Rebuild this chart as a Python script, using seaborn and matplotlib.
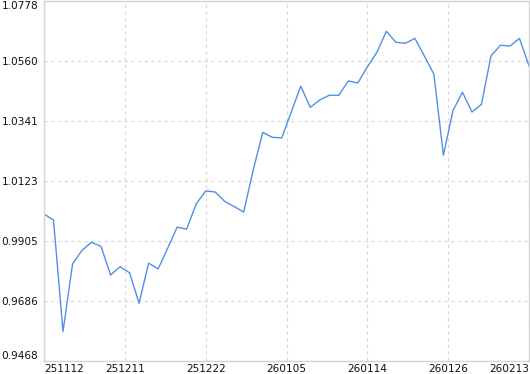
import numpy as np
import pandas as pd
import matplotlib
matplotlib.use("Agg")
import matplotlib.pyplot as plt
import seaborn as sns

values = [1.0003, 0.9981, 0.9575, 0.9821, 0.9871, 0.9900, 0.9885, 0.9781, 0.9811, 0.9789,
          0.9678, 0.9824, 0.9803, 0.9878, 0.9955, 0.9948, 1.0039, 1.0087, 1.0083, 1.0049,
          1.0030, 1.0010, 1.0163, 1.0300, 1.0282, 1.0280, 1.0374, 1.0468, 1.0391, 1.0418,
          1.0435, 1.0435, 1.0487, 1.0480, 1.0538, 1.0591, 1.0668, 1.0628, 1.0624, 1.0642,
          1.0578, 1.0511, 1.0217, 1.0379, 1.0446, 1.0374, 1.0402, 1.0578, 1.0617, 1.0614,
          1.0642, 1.0542]
xtick_labels = ["251112", "251211", "251222", "260105", "260114", "260126", "260213"]
ytick_labels = ["0.9468", "0.9686", "0.9905", "1.0123", "1.0341", "1.0560", "1.0778"]

df = pd.DataFrame({"idx": np.arange(len(values)), "value": values})

sns.set_theme(style="white")
plt.rcParams['font.family'] = ['DejaVu Sans']

fig = plt.figure(figsize=(5.3, 3.74), dpi=100)
ax = fig.add_axes([44 / 530, 1 - 361 / 374, 485 / 530, 360 / 374])

sns.lineplot(data=df, x="idx", y="value", ax=ax, color="#5090e4", linewidth=1.0)

ymin, ymax = float(ytick_labels[0]), float(ytick_labels[-1])
ax.set_ylim(ymin, ymax)
ax.set_xlim(0, len(values) - 1)

yt = np.linspace(ymin, ymax, len(ytick_labels))
ax.set_yticks(yt)
ax.set_yticklabels(ytick_labels)
xt = np.linspace(0, len(values) - 1, len(xtick_labels))
ax.set_xticks(xt)
ax.set_xticklabels(xtick_labels)

ax.set_xlabel("")
ax.set_ylabel("")
ax.tick_params(axis="both", length=0, labelsize=7.6, colors="#111111")
ax.tick_params(axis="y", pad=4)
ax.tick_params(axis="x", pad=2)

xl = ax.get_xticklabels()
xl[0].set_ha("left")
xl[-1].set_ha("right")
yl = ax.get_yticklabels()
yl[0].set_va("bottom")
yl[-1].set_va("top")

ax.grid(True, color="#d8d8d8", linestyle=(0, (3, 3)), linewidth=0.8)
for s in ax.spines.values():
    s.set_visible(True)
    s.set_color("#d4d4d4")
    s.set_linewidth(1.0)

fig.savefig("out.png", dpi=100)
